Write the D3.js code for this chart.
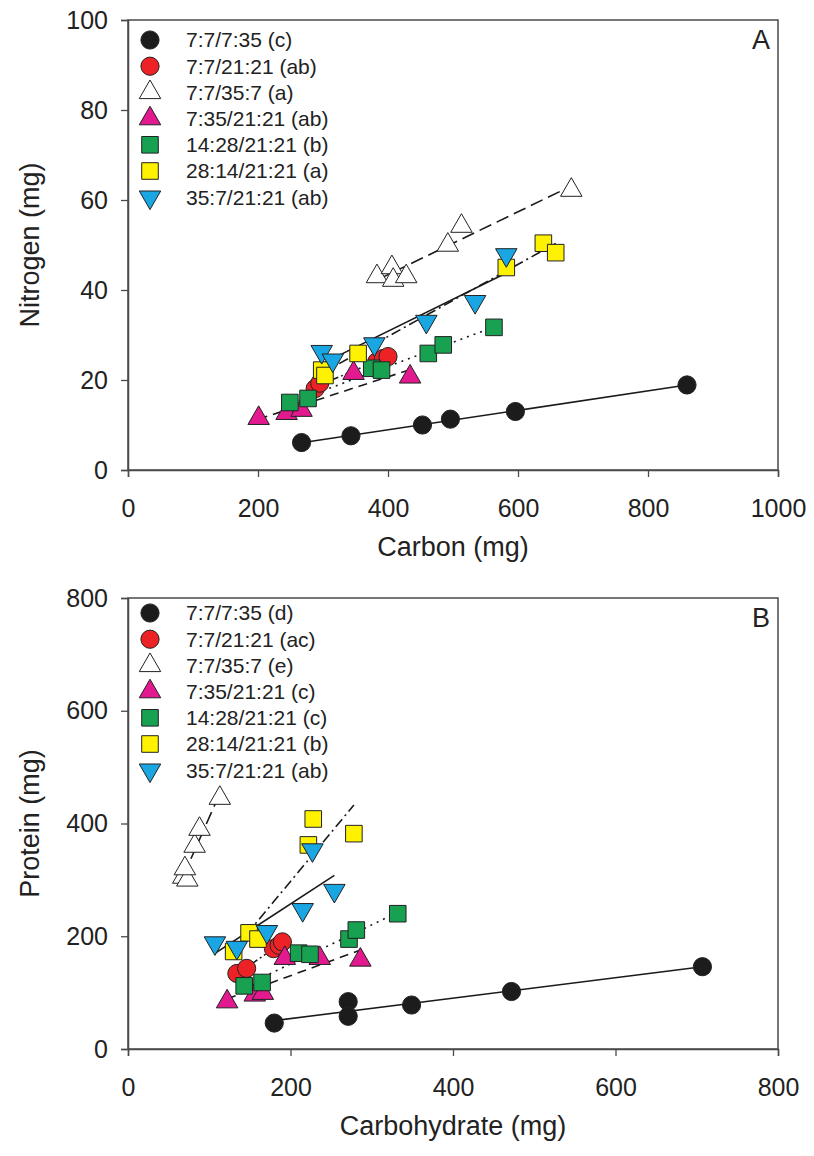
<!DOCTYPE html>
<html>
<head>
<meta charset="utf-8">
<script src="https://cdn.jsdelivr.net/npm/d3@7"></script>
<style>
  body { margin: 0; background: #fff; }
  text { font-family: "Liberation Sans", Arial, sans-serif; fill: #222; }
</style>
</head>
<body>
<svg id="fig" width="814" height="1156"></svg>
<script>
// diets (P:C protein/carb ratio per day) - same 7 groups in both panels
var groups = ["7:7/7:35", "7:7/21:21", "7:7/35:7", "7:35/21:21", "14:28/21:21", "28:14/21:21", "35:7/21:21"];
var lettersA = ["c", "ab", "a", "ab", "b", "a", "ab"];
var lettersB = ["d", "ac", "e", "c", "c", "b", "ab"];

var shapes = ["circle", "circle", "triangle", "triangle", "square", "square", "down"];
var fills  = ["#1c1c1c", "#ec2227", "#ffffff", "#e2198f", "#17a150", "#fff200", "#1aa6e2"];
var dashes = [null, "6,3,2,3,2,3", "13,6", "9,6", "2,5", "10,4,2,4", null];

// panel A: carbon (x) vs nitrogen (y), mg
var carbonA = [
  [267, 343, 453, 496, 596, 860],
  [288, 295, 383, 393, 400],
  [383, 406, 408, 428, 492, 513, 682],
  [201, 244, 267, 347, 434],
  [249, 277, 375, 390, 462, 485, 563],
  [298, 303, 354, 582, 639, 658],
  [298, 315, 379, 459, 534, 582]
];
var nitrogenA = [
  [6.1, 7.6, 10, 11.3, 13, 18.9],
  [18.1, 19.3, 24.1, 24.8, 25.2],
  [43, 45, 42.2, 43, 50, 54.2, 62.2],
  [11.5, 12.6, 13.3, 21.5, 20.7],
  [15, 15.9, 22.6, 22.2, 25.9, 27.8, 31.7],
  [22.2, 21, 25.9, 45, 50.4, 48.3],
  [26.3, 24.4, 28, 33, 37.4, 47.8]
];

// panel B: carbohydrate (x) vs protein (y), mg
var carbB = [
  [180, 271, 271, 349, 472, 707],
  [134, 146, 179, 186, 190],
  [68, 73, 70, 82, 88, 113],
  [122, 156, 166, 193, 236, 286],
  [143, 165, 210, 224, 272, 281, 332],
  [130, 149, 160, 222, 228, 278],
  [107, 134, 171, 215, 254, 227]
];
var proteinB = [
  [46, 84, 58, 78, 102, 146],
  [134, 143, 178, 184, 190],
  [305, 300, 320, 360, 390, 445],
  [84, 96, 99, 161, 161, 158],
  [112, 118, 170, 168, 195, 211, 240],
  [173, 206, 195, 362, 408, 382],
  [188, 180, 208, 247, 281, 353]
];

var ticksA_x = [0, 200, 400, 600, 800, 1000];
var ticksA_y = [0, 20, 40, 60, 80, 100];
var ticksB_x = [0, 200, 400, 600, 800];
var ticksB_y = [0, 200, 400, 600, 800];

var svg = d3.select("#fig");
var left = 128, right = 778;

function symbolPath(kind) {
  if (kind == "circle") return d3.symbol().type(d3.symbolCircle).size(260)();
  if (kind == "square") return d3.symbol().type(d3.symbolSquare).size(275)();
  return d3.symbol().type(d3.symbolTriangle).size(200)();
}

function fit(xs, ys) {
  var mx = d3.mean(xs), my = d3.mean(ys);
  var sxy = d3.sum(xs, function(v, i) { return (v - mx) * (ys[i] - my); });
  var sxx = d3.sum(xs, function(v) { return (v - mx) * (v - mx); });
  var b = sxy / sxx;
  return function(v) { return my + b * (v - mx); };
}

function panel(cfg) {
  var x = d3.scaleLinear().domain(cfg.xDomain).range([left, right]);
  var y = d3.scaleLinear().domain(cfg.yDomain).range([cfg.bottom, cfg.top]);
  var g = svg.append("g");

  g.append("rect")
    .attr("x", left).attr("y", cfg.top)
    .attr("width", right - left).attr("height", cfg.bottom - cfg.top)
    .attr("fill", "none").attr("stroke", "#4a4a4a").attr("stroke-width", 1.5);

  var ax = g.append("g").attr("transform", "translate(0," + cfg.bottom + ")")
    .call(d3.axisBottom(x).tickValues(cfg.xTicks).tickSize(7).tickPadding(22).tickFormat(d3.format("d")));
  var ay = g.append("g").attr("transform", "translate(" + left + ",0)")
    .call(d3.axisLeft(y).tickValues(cfg.yTicks).tickSize(7).tickPadding(13).tickFormat(d3.format("d")));
  [ax, ay].forEach(function(a) {
    a.select(".domain").attr("stroke", "#4a4a4a").attr("stroke-width", 1.5);
    a.selectAll(".tick line").attr("stroke", "#4a4a4a").attr("stroke-width", 1.3);
    a.selectAll(".tick text").attr("font-size", 25).attr("fill", "#222")
      .style("font-family", '"Liberation Sans", Arial, sans-serif');
  });

  g.append("text").attr("x", (left + right) / 2).attr("y", cfg.bottom + 86)
    .attr("text-anchor", "middle").attr("font-size", 27).text(cfg.xTitle);
  g.append("text")
    .attr("transform", "translate(30," + ((cfg.top + cfg.bottom) / 2) + ") rotate(-90)")
    .attr("text-anchor", "middle").attr("dy", "0.35em").attr("font-size", 27).text(cfg.yTitle);

  g.append("text").attr("x", right - 8).attr("y", cfg.top + 29)
    .attr("text-anchor", "end").attr("font-size", 27).text(cfg.letter);

  // regression lines
  groups.forEach(function(name, i) {
    var xs = cfg.xs[i], ys = cfg.ys[i];
    var f = fit(xs, ys);
    var x0 = d3.min(xs), x1 = d3.max(xs);
    g.append("line")
      .attr("x1", x(x0)).attr("y1", y(f(x0)))
      .attr("x2", x(x1)).attr("y2", y(f(x1)))
      .attr("stroke", "#1a1a1a").attr("stroke-width", 1.6)
      .attr("stroke-dasharray", dashes[i]);
  });

  // points
  groups.forEach(function(name, i) {
    var pts = cfg.xs[i].map(function(v, k) { return [v, cfg.ys[i][k]]; });
    g.append("g").selectAll("path").data(pts).enter().append("path")
      .attr("d", symbolPath(shapes[i]))
      .attr("transform", function(d) {
        return "translate(" + x(d[0]) + "," + y(d[1]) + ")" + (shapes[i] == "down" ? " rotate(180)" : "");
      })
      .attr("fill", fills[i]).attr("stroke", "#222").attr("stroke-width", 1);
  });

  // legend
  var lg = g.append("g");
  groups.forEach(function(name, i) {
    var ly = cfg.top + cfg.legendOffset + i * 26.2;
    lg.append("path").attr("d", symbolPath(shapes[i]))
      .attr("transform", "translate(150," + ly + ")" + (shapes[i] == "down" ? " rotate(180)" : ""))
      .attr("fill", fills[i]).attr("stroke", "#222").attr("stroke-width", 1);
    lg.append("text").attr("x", 186).attr("y", ly).attr("dy", "0.35em")
      .attr("font-size", 21).text(name + " (" + cfg.letters[i] + ")");
  });
}

panel({
  top: 20, bottom: 470, xDomain: [0, 1000], yDomain: [0, 100],
  xTicks: ticksA_x, yTicks: ticksA_y, xs: carbonA, ys: nitrogenA,
  letters: lettersA, letter: "A", legendOffset: 20,
  xTitle: "Carbon (mg)", yTitle: "Nitrogen (mg)"
});

panel({
  top: 598, bottom: 1049, xDomain: [0, 800], yDomain: [0, 800],
  xTicks: ticksB_x, yTicks: ticksB_y, xs: carbB, ys: proteinB,
  letters: lettersB, letter: "B", legendOffset: 15,
  xTitle: "Carbohydrate (mg)", yTitle: "Protein (mg)"
});
</script>
</body>
</html>
